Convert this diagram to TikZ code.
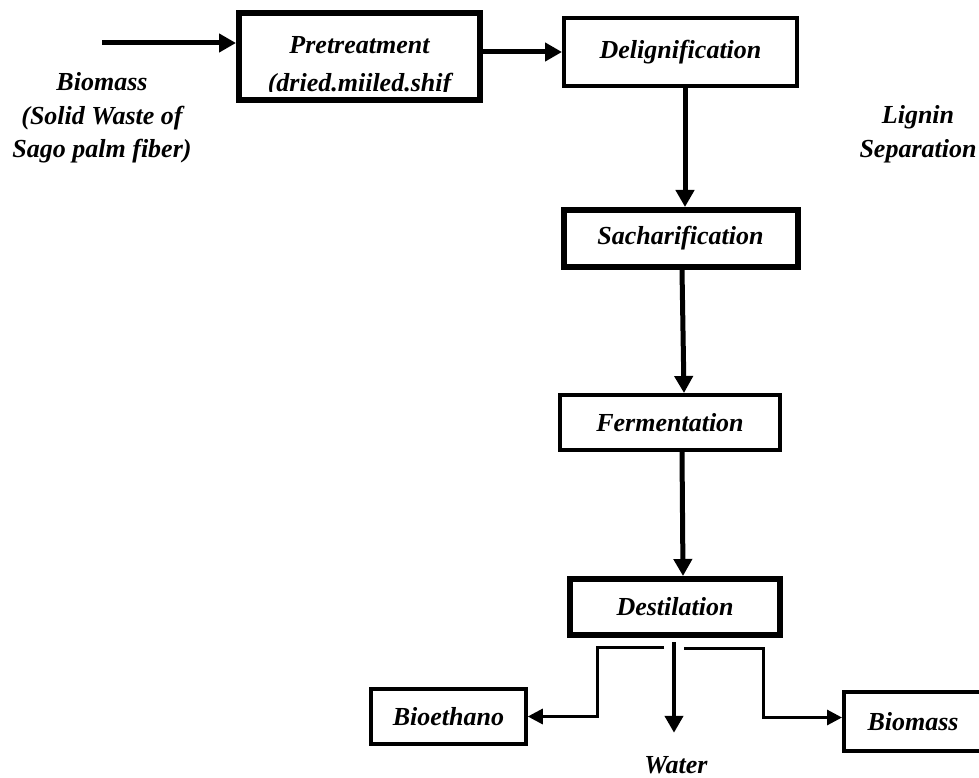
\documentclass[tikz,border=0pt]{standalone}
\usepackage{fontspec}
\setmainfont{Liberation Serif}
\usetikzlibrary{arrows.meta,calc}
\begin{document}
\begin{tikzpicture}[x=1pt,y=-1pt,
  every node/.style={font=\fontsize{26}{33.5}\selectfont\bfseries\itshape},
  thickbox/.style={draw, line width=6pt, inner sep=0pt},
  thinbox/.style={draw, line width=4pt, inner sep=0pt},
  medbox/.style={draw, line width=3.5pt, inner sep=0pt},
  arr/.style={line width=5pt, -{Triangle[length=17pt,width=18pt]}},
  sarr/.style={line width=3pt, -{Triangle[length=15pt,width=15pt]}}]
\useasboundingbox (0,0) rectangle (979,778);

\node[thickbox, minimum width=241pt, minimum height=87pt] (pre) at (359.5,56.5) {};
\begin{scope}
\clip (236,10) rectangle (483,92);
\node[align=center] (pretext) at (359.5,67) {Pretreatment\\[4.5pt](dried.miiled.shif};
\end{scope}
\node[thinbox, minimum width=233pt, minimum height=68pt] (del) at (680.5,52) {Delignification};
\node[thickbox, minimum width=234pt, minimum height=57pt] (sac) at (680.5,238.5) {Sacharification};
\node[thinbox, minimum width=220pt, minimum height=55pt] (fer) at (670,422.5) {Fermentation};
\node[thickbox, minimum width=210pt, minimum height=56pt] (des) at (675,607) {Destilation};
\node[medbox, minimum width=155pt, minimum height=55pt] (bio) at (448.5,716.5) {Bioethano};
\node[thinbox, minimum width=138pt, minimum height=59pt] (bm) at (913,721.5) {Biomass};

\node[align=center] (biomassin) at (102,118) {Biomass\\(Solid Waste of\\Sago palm fiber)};
\node[align=center] (lignin) at (918,134) {Lignin\\Separation};
\node (water) at (676,765) {Water};

\coordinate (src) at (102,43);
\draw[arr] (src) -- (src -| pre.west);
\draw[arr] (pre.east |- del.west) -- (del.west);
\draw[arr] ([xshift=4.5pt]del.south) -- ([xshift=4.5pt]sac.north);
\draw[arr] ([xshift=1.5pt]sac.south) -- ([xshift=14pt]fer.north);
\draw[arr] ([xshift=12pt]fer.south) -- ([xshift=8pt]des.north);

\coordinate (bl) at (664,647);
\coordinate (br) at (684,648);
\coordinate (bw) at (674,642);
\draw[sarr] (bl) -- ++(-67,0) |- (bio.east);
\draw[sarr] (br) -- ++(79,0) |- ([yshift=4pt]bm.west);
\draw[arr, line width=4.5pt] (bw) -- ([yshift=20pt]water.north -| bw);
\end{tikzpicture}
\end{document}
